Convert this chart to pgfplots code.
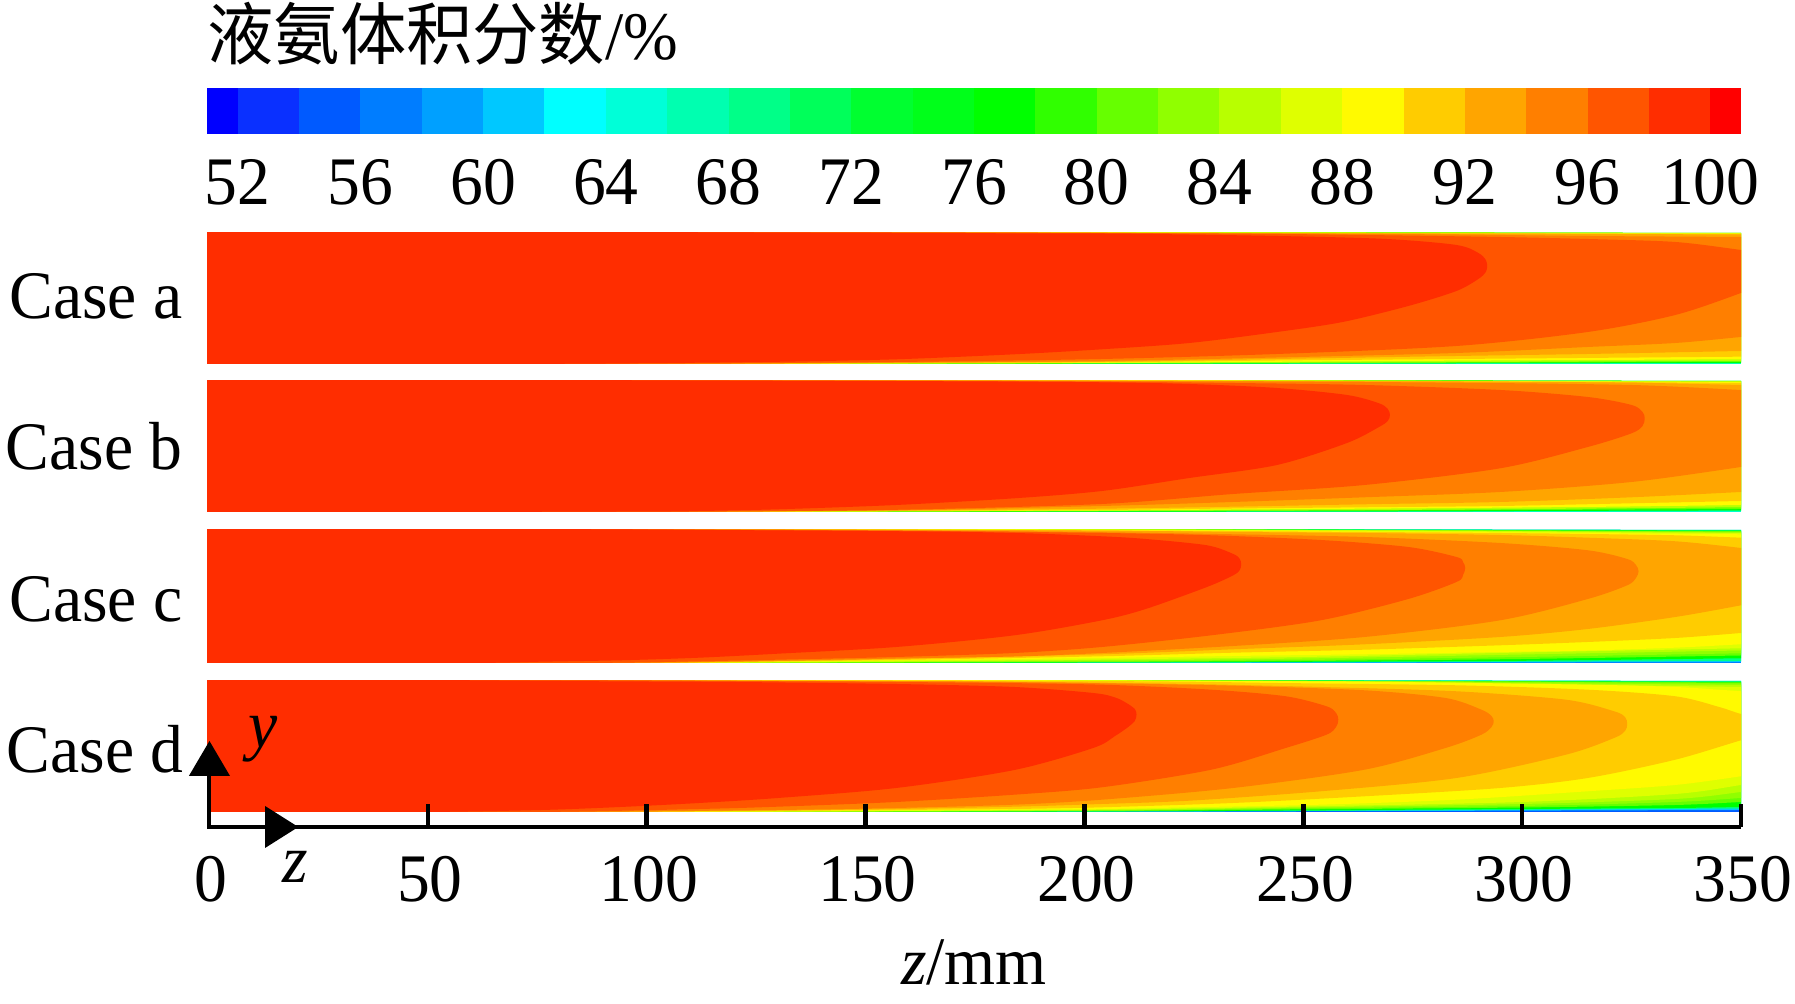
\documentclass[border=0pt]{standalone}
\usepackage{pgfplots}
\pgfplotsset{compat=1.18}
\usepackage{fontspec}
\setmainfont[FakeStretch=0.965]{Liberation Serif}
\newfontfamily\cjk[FakeStretch=0.975]{Noto Sans CJK SC}

% colour levels of the contour legend, named by their lower bound
\definecolor{c51}{HTML}{0000FF}\definecolor{c52}{HTML}{0A30FF}\definecolor{c54}{HTML}{005AFF}
\definecolor{c56}{HTML}{007DFF}\definecolor{c58}{HTML}{00A0FF}\definecolor{c60}{HTML}{00C8FF}
\definecolor{c62}{HTML}{00FFFF}\definecolor{c64}{HTML}{00FFD8}\definecolor{c66}{HTML}{00FFB0}
\definecolor{c68}{HTML}{00FF88}\definecolor{c70}{HTML}{00FF5A}\definecolor{c72}{HTML}{00FF30}
\definecolor{c74}{HTML}{00FF1A}\definecolor{c76}{HTML}{00FF00}\definecolor{c78}{HTML}{30FF00}
\definecolor{c80}{HTML}{66FF00}\definecolor{c82}{HTML}{90FF00}\definecolor{c84}{HTML}{B8FF00}
\definecolor{c86}{HTML}{DFFF00}\definecolor{c88}{HTML}{FFFA00}\definecolor{c90}{HTML}{FFCC00}
\definecolor{c92}{HTML}{FFA500}\definecolor{c94}{HTML}{FF7F00}\definecolor{c96}{HTML}{FF5500}
\definecolor{c98}{HTML}{FF2D00}\definecolor{c100}{HTML}{FF0000}

\newcommand{\bigf}{\fontsize{34}{40}\selectfont}
% panel background, then one filled contour level (boundaries run past z=350, the axis clips them)
\newcommand{\lb}[2]{\addplot[fill=#1,draw=none,forget plot] coordinates {#2} -- cycle;}
\newcommand{\lv}[2]{\addplot[fill=#1,draw=none,forget plot,smooth] coordinates {#2} -- cycle;}
% one legend segment
\newcommand{\seg}[3]{\addplot[fill=#1,draw=none,forget plot] coordinates {(#2,0)(#3,0)(#3,1)(#2,1)} -- cycle;}

\pgfplotsset{
  panel/.style={
    scale only axis, hide axis, width=767pt, height=#1*0.5pt,
    xmin=-0.46, xmax=350, ymin=0, ymax=#1, no markers, anchor=south west},
}

\begin{document}
\begin{tikzpicture}
\path[use as bounding box] (0,0) rectangle (897.5pt,502pt);

% legend bar
\begin{axis}[
  scale only axis, width=767pt, height=23pt, anchor=south west,
  at={({207*0.5pt},{(1004-134)*0.5pt})},
  xmin=51, xmax=101, ymin=0, ymax=1,
  hide y axis, axis x line=bottom, x axis line style={draw=none,-},
  xtick={52,56,...,100}, major tick length=0pt,
  /pgf/number format/assume math mode=true,
  tick label style={font=\bigf}, xticklabel style={yshift=-9.2pt},
]
\seg{c51}{51}{52}\seg{c52}{52}{54}\seg{c54}{54}{56}\seg{c56}{56}{58}\seg{c58}{58}{60}
\seg{c60}{60}{62}\seg{c62}{62}{64}\seg{c64}{64}{66}\seg{c66}{66}{68}\seg{c68}{68}{70}
\seg{c70}{70}{72}\seg{c72}{72}{74}\seg{c74}{74}{76}\seg{c76}{76}{78}\seg{c78}{78}{80}
\seg{c80}{80}{82}\seg{c82}{82}{84}\seg{c84}{84}{86}\seg{c86}{86}{88}\seg{c88}{88}{90}
\seg{c90}{90}{92}\seg{c92}{92}{94}\seg{c94}{94}{96}\seg{c96}{96}{98}\seg{c98}{98}{100}
\seg{c100}{100}{101}
\end{axis}

% Case a
\begin{axis}[panel=131, at={({207*0.5pt},{(1004-364)*0.5pt})}]
\lb{c66}{(-0.46,0)(350,0)(350,131)(-0.46,131)}
\lv{c76}{(-0.46,-1)(150,0)(250,0.5)(350,1.2)(358,1.3)(358,131)(350,131)(-0.46,134)}
\lv{c80}{(-0.46,-1)(120,0)(200,0.5)(280,1.2)(350,2.2)(358,2.3)(358,131)(350,131)(-0.46,134)}
\lv{c84}{(-0.46,-1)(110,0)(200,0.9)(280,1.9)(350,3.2)(358,3.4)(358,131)(350,131)(-0.46,134)}
\lv{c88}{(-0.46,-1)(100,0)(157,0.6)(204,1.2)(244,2.2)(285,3.3)(350,4.7)(358,4.9)(358,130.5)(350,130.6)(250,131)(-0.46,134)}
\lv{c90}{(-0.46,-1)(100,0)(157,0.9)(204,1.7)(244,3.5)(285,5)(350,7.3)(358,7.6)(358,129.9)(350,130)(300,130.6)(250,131)(-0.46,134)}
\lv{c92}{(-0.46,-1)(105,0)(157,1.1)(204,2.2)(244,5)(285,8)(315,10)(350,13)(358,13.7)(358,129.3)(350,129.5)(300,130.3)(230,131)(-0.46,134)}
\lv{c94}{(-0.46,-1)(100,0)(157,1.5)(204,3)(244,6.5)(285,11)(315,17)(335,21)(350,27)(358,30)(358,126.5)(350,127)(315,128)(285,129.5)(244,130.5)(200,131)(-0.46,134)}
\lv{c96}{(-0.46,-1)(100,0.3)(157,2)(204,5)(244,10)(285,18)(315,32)(335,49)(350,71)(358,85)(358,109)(350,114)(335,122)(315,125)(295,127)(264,129)(244,130)(204,131)(-0.46,134)}
\lv{c98}{(-0.46,-1)(70,0)(100,0.8)(130,2.2)(157,4.7)(184,9.7)(204,14.7)(224,21)(244,32)(259,42)(274,58)(285,73)(290,85)(291.7,92)(292,98)(291.7,104)(290,111)(285,119)(269,125)(244,128)(204,130.5)(150,131)(-0.46,134)}
\end{axis}

% Case b
\begin{axis}[panel=131, at={({207*0.5pt},{(1004-512)*0.5pt})}]
\lb{c64}{(-0.46,0)(350,0)(350,131)(-0.46,131)}
\lv{c68}{(-0.46,-1)(160,0)(250,0.3)(350,0.8)(358,0.9)(358,131)(350,131)(-0.46,134)}
\lv{c76}{(-0.46,-1)(140,0)(200,0.3)(280,0.8)(350,1.6)(358,1.7)(358,131)(350,131)(-0.46,134)}
\lv{c80}{(-0.46,-1)(125,0)(200,0.7)(280,1.6)(350,3)(358,3.2)(358,131)(350,131)(-0.46,134)}
\lv{c84}{(-0.46,-1)(115,0)(200,1.1)(280,2.3)(350,4.7)(358,5)(358,130.8)(350,130.8)(300,131)(-0.46,134)}
\lv{c88}{(-0.46,-1)(105,0)(157,0.8)(204,1.5)(234,2.5)(264,3.3)(295,4.3)(325,5.5)(350,7)(358,7.5)(358,129.9)(350,130)(280,131)(-0.46,134)}
\lv{c90}{(-0.46,-1)(100,0)(157,1)(204,2)(234,3.5)(264,4.7)(295,6)(325,8.7)(350,11)(358,11.8)(358,128.7)(350,129)(270,131)(-0.46,134)}
\lv{c92}{(-0.46,-1)(95,0)(157,1.4)(204,3.3)(234,5.3)(264,7.7)(295,10)(325,14.7)(350,20)(358,22)(358,126.5)(350,127)(325,129.3)(285,130.5)(240,131)(-0.46,134)}
\lv{c94}{(-0.46,-1)(90,0)(157,1.7)(204,6)(234,10)(264,14.7)(295,20)(325,30)(350,45)(358,51)(358,120)(350,122)(325,127)(285,129.3)(240,130.5)(200,131)(-0.46,134)}
\lv{c96}{(-0.46,-1)(85,0)(112,0.3)(157,2.2)(204,8)(234,18)(264,27)(295,43.7)(315,65)(325,78.7)(327.5,86)(328,93.7)(327.5,100)(325,107)(315,115)(295,122)(264,127)(234,129)(204,130.3)(170,131)(-0.46,134)}
\lv{c98}{(-0.46,-1)(60,0)(94,0.5)(112,1)(130,2.7)(157,7)(184,13.7)(204,21)(224,34)(244,47)(260,69)(267.3,85)(269.3,91)(269.8,97)(269.3,103)(267.3,108.7)(260,117)(244,124)(224,128)(204,129.7)(170,130.7)(130,131)(-0.46,134)}
\end{axis}

% Case c
\begin{axis}[panel=133, at={({207*0.5pt},{(1004-663)*0.5pt})}]
\lb{c56}{(-0.46,0)(350,0)(350,133)(-0.46,133)}
\lv{c60}{(-0.46,-1)(200,0)(350,1)(358,1.1)(358,133)(350,133)(-0.46,136)}
\lv{c68}{(-0.46,-1)(150,0)(250,0.6)(350,2)(358,2.2)(358,133)(350,133)(-0.46,136)}
\lv{c76}{(-0.46,-1)(130,0)(200,0.5)(250,1.2)(300,2.2)(350,4.7)(358,5.2)(358,132.2)(350,132.3)(280,133)(-0.46,136)}
\lv{c80}{(-0.46,-1)(120,0)(200,1)(250,2)(300,4)(350,7.5)(358,8.1)(358,131.7)(350,131.8)(270,133)(-0.46,136)}
\lv{c82}{(-0.46,-1)(110,0)(200,1.5)(250,3)(300,6)(350,9.7)(358,10.4)(358,131.2)(350,131.3)(260,133)(-0.46,136)}
\lv{c84}{(-0.46,-1)(105,0)(204,2.5)(250,4.5)(300,8.5)(350,12.5)(358,13.2)(358,130.3)(350,130.5)(250,133)(-0.46,136)}
\lv{c86}{(-0.46,-1)(100,0)(157,1.5)(204,3.5)(250,6)(300,10.5)(350,14.7)(358,15.5)(358,129.6)(350,129.8)(240,133)(-0.46,136)}
\lv{c88}{(-0.46,-1)(100,0)(157,2.5)(204,5)(234,7)(264,8.7)(295,11)(315,12.5)(335,15.3)(350,18.7)(358,20.5)(358,128.4)(350,128.7)(300,130.5)(230,132.5)(200,133)(-0.46,136)}
\lv{c90}{(-0.46,-1)(95,0)(130,1.5)(157,3)(204,6.7)(234,10.3)(264,13.3)(295,17.7)(315,21)(335,25)(350,30)(358,33)(358,124)(350,125.3)(335,127.7)(315,129)(295,130)(264,131)(200,132.7)(-0.46,136)}
\lv{c92}{(-0.46,-1)(95,0)(130,1.8)(157,4)(204,8.7)(234,13.7)(264,18.7)(295,26)(315,34)(335,46)(350,57.7)(358,65)(358,110)(350,115)(335,121.7)(315,125.3)(295,128)(264,130)(234,131)(190,132.7)(-0.46,136)}
\lv{c94}{(-0.46,-1)(90,0)(130,2.3)(157,4.5)(184,6.5)(204,10)(234,17)(264,26)(295,42.7)(315,64)(324,77.7)(326,85)(326.6,91.7)(326,98)(324,104)(315,112.7)(295,120)(264,126)(234,128.7)(200,131)(150,132.7)(-0.46,136)}
\lv{c96}{(-0.46,-1)(85,0)(112,1.7)(130,3.3)(157,6)(184,10)(204,16)(229,27.7)(254,42.7)(274,64)(285,81)(286.5,88)(287,95)(286.5,101)(285,106)(274,116)(254,123)(229,127.7)(204,130)(150,132.5)(-0.46,136)}
\lv{c98}{(-0.46,-1)(60,0)(76,1.3)(94,2.7)(112,5.3)(130,9.3)(157,16)(184,27.7)(204,42.7)(214,54)(228,76)(234,87.7)(235.5,93)(235.8,98.7)(235.5,104)(234,109)(228,117.7)(214,124)(204,126.7)(184,130)(150,132)(-0.46,136)}
\end{axis}

% Case d
\begin{axis}[panel=131, at={({207*0.5pt},{(1004-812)*0.5pt})}]
\lb{c54}{(-0.46,0)(350,0)(350,131)(-0.46,131)}
\lv{c60}{(-0.46,-1)(180,0)(350,2)(358,2.1)(358,131)(350,131)(-0.46,134)}
\lv{c68}{(-0.46,-1)(150,0)(250,1)(350,3.5)(358,3.7)(358,131)(350,131)(-0.46,134)}
\lv{c76}{(-0.46,-1)(130,0)(204,0.6)(250,1.6)(300,3)(335,4)(350,5)(358,5.6)(358,129.9)(350,130)(280,131)(-0.46,134)}
\lv{c80}{(-0.46,-1)(120,0)(204,1)(250,2.6)(300,4.5)(335,7)(350,10)(358,11.5)(358,129.3)(350,129.5)(270,131)(-0.46,134)}
\lv{c82}{(-0.46,-1)(110,0)(204,1.3)(250,3.5)(300,6)(335,10)(350,14)(358,16)(358,128.3)(350,128.5)(260,131)(-0.46,134)}
\lv{c84}{(-0.46,-1)(105,0)(204,1.8)(250,4.5)(300,8)(335,13)(350,20)(358,24)(358,126.7)(350,127)(300,129)(250,131)(-0.46,134)}
\lv{c86}{(-0.46,-1)(100,0)(157,1)(204,2.3)(250,5.5)(300,10)(335,18)(350,27)(358,32)(358,124.5)(350,125)(300,128)(240,131)(-0.46,134)}
\lv{c88}{(-0.46,-1)(95,0)(157,1.5)(204,3)(224,4.7)(254,7.3)(285,12.3)(315,20.7)(335,27)(350,35.7)(358,41)(358,118)(350,120.7)(335,125)(315,127.3)(270,130)(230,131)(-0.46,134)}
\lv{c90}{(-0.46,-1)(90,0)(130,1.1)(157,2)(184,3)(204,4.7)(234,9)(264,15.7)(295,24)(315,34)(335,52.3)(350,71.7)(358,81)(358,90)(350,98)(345,105)(335,115.7)(315,122.3)(285,126.7)(244,129)(200,131)(-0.46,134)}
\lv{c92}{(-0.46,-1)(85,0)(130,1.5)(157,3)(184,5.3)(204,8)(224,11.3)(254,20.7)(285,34)(310,57.3)(321,74)(323.5,81)(324,88)(323.5,95)(321,100.7)(310,112.3)(285,120.7)(254,125)(224,128)(190,130)(150,131)(-0.46,134)}
\lv{c94}{(-0.46,-1)(80,0)(130,2)(157,4)(184,7.3)(204,12.3)(234,24)(264,42.3)(282.5,64)(290.7,77.3)(293,85)(293.5,90.7)(293,96)(290.7,102.3)(282.5,114)(264,121.7)(234,126.3)(204,128.7)(170,130.5)(130,131)(-0.46,134)}
\lv{c96}{(-0.46,-1)(75,0)(112,3)(130,5.3)(157,10)(184,17.3)(204,24.7)(229,42.3)(246,64)(255.3,77.3)(257.5,85)(258,92.3)(257.5,99)(255.3,105.7)(246,115.7)(229,122.3)(204,127.3)(170,129.5)(120,131)(-0.46,134)}
\lv{c98}{(-0.46,-1)(50,0)(76,2)(94,5)(112,9)(130,14)(157,24)(184,42)(202,64)(207,76)(210,85)(211.5,91)(211.9,97.3)(211.5,103)(209.6,109)(207,114.5)(202,119)(184,125)(157,128)(120,130)(80,131)(-0.46,134)}
\end{axis}

% z axis with the two direction arrows
\begin{axis}[
  scale only axis, width=767pt, height=11.5pt, anchor=south west,
  at={({207*0.5pt},{(1004-827)*0.5pt})},
  xmin=-0.46, xmax=350, ymin=0, ymax=23, clip=false,
  hide y axis, axis x line=bottom, x axis line style={-, line width=2.3pt},
  xtick={0,50,...,350}, xtick align=inside, major tick length=11.5pt,
  tick style={black, line width=2.3pt},
  /pgf/number format/assume math mode=true,
  tick label style={font=\bigf}, xticklabel style={yshift=-11pt, xshift=1pt},
  xlabel={\textit{z}/mm}, label style={font=\bigf},
  xlabel style={yshift=-12pt, xshift=0pt},
]
\addplot[black, line width=2.3pt, forget plot] coordinates {(0,0)(0,51)};
\addplot[fill=black, draw=none, forget plot] coordinates {(-4.6,51)(4.8,51)(0.1,86)} -- cycle;
\addplot[fill=black, draw=none, forget plot] coordinates {(12.8,21)(20.4,0)(12.8,-21)} -- cycle;
\end{axis}

% texts
\node[anchor=base west, inner sep=0pt, font=\bigf] at ({207*0.5pt},{(1004-60)*0.5pt}) {{\cjk 液氨体积分数}/\%};
\node[anchor=base east, inner sep=0pt, font=\bigf] at ({183*0.5pt},{(1004-319)*0.5pt}) {Case a};
\node[anchor=base east, inner sep=0pt, font=\bigf] at ({183*0.5pt},{(1004-470)*0.5pt}) {Case b};
\node[anchor=base east, inner sep=0pt, font=\bigf] at ({183*0.5pt},{(1004-622)*0.5pt}) {Case c};
\node[anchor=base east, inner sep=0pt, font=\bigf] at ({184*0.5pt},{(1004-773)*0.5pt}) {Case d};
\node[anchor=base, inner sep=0pt, font=\bigf] at ({263*0.5pt},{(1004-748)*0.5pt}) {\textit{y}};
\node[anchor=base, inner sep=0pt, font=\bigf] at ({295*0.5pt},{(1004-883)*0.5pt}) {\textit{z}};
\end{tikzpicture}
\end{document}
